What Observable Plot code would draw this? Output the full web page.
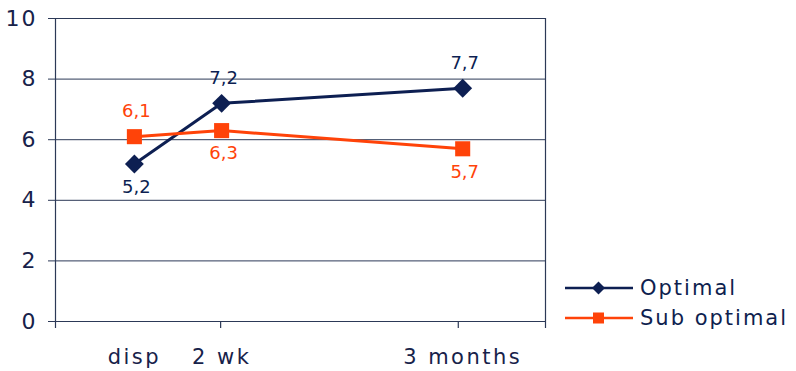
<!DOCTYPE html>
<html>
<head>
<meta charset="utf-8">
<script src="https://cdn.jsdelivr.net/npm/d3@7"></script>
<script src="https://cdn.jsdelivr.net/npm/@observablehq/plot@0.6"></script>
<style>
  body { margin: 0; background: #fff; }
  #chart { position: relative; width: 796px; height: 371px; }
  #chart g[aria-label="y-axis tick label"] text { letter-spacing: 2px; }
  #chart g[aria-label="x-axis tick label"] text { letter-spacing: 2.5px; }
  .legend { position: absolute; left: 565px; top: 273px; font-family: "DejaVu Sans", sans-serif;
            font-size: 21px; letter-spacing: 2px; color: #0f1f4f; }
  .legend .row { display: flex; align-items: center; height: 30px; }
  .legend svg { margin-right: 7px; }
</style>
</head>
<body>
<div id="chart"></div>
<script>
// Data
const categories = ["disp", "2 wk", "3 months"];
const optimal = [5.2, 7.2, 7.7];
const subOptimal = [6.1, 6.3, 5.7];
const seriesNames = ["Optimal", "Sub optimal"];
const yTicks = [0, 2, 4, 6, 8, 10];

// Layout: horizontal slot (0–100 across the frame) for each category, and where the axis ticks fall
const slot = { "disp": 16.1, "2 wk": 33.9, "3 months": 83.1 };
const tickSlots = [0, 33.7, 82.2, 100];
// Label side per point: -1 above, +1 below
const labelSide = { "Optimal": [1, -1, -1], "Sub optimal": [-1, 1, 1] };

const navy = "#0d1f52";
const orange = "#ff4309";
const ink = "#17224a";
const grid = "#2c3957";
const seriesColors = [navy, orange];

const rows = [
  ...categories.map((c, i) => ({ series: "Optimal", cat: c, value: optimal[i], side: labelSide["Optimal"][i] })),
  ...categories.map((c, i) => ({ series: "Sub optimal", cat: c, value: subOptimal[i], side: labelSide["Sub optimal"][i] }))
];
const fmt = v => String(v).replace(".", ",");
const X = d => slot[d.cat];

const chart = Plot.plot({
  width: 796,
  height: 371,
  marginLeft: 55,
  marginRight: 251,
  marginTop: 18,
  marginBottom: 50,
  style: { fontFamily: "DejaVu Sans, sans-serif", background: "#fff", overflow: "visible" },
  x: { domain: [0, 100], axis: null },
  y: { domain: [0, 10], axis: null },
  color: { domain: seriesNames, range: seriesColors },
  symbol: { domain: seriesNames, range: ["diamond2", "square"] },
  marks: [
    Plot.gridY(yTicks, { stroke: grid, strokeOpacity: 1, strokeWidth: 1 }),
    Plot.ruleX([0, 100], { y1: 0, y2: 10, stroke: grid, strokeWidth: 1.2 }),
    Plot.axisY(yTicks, {
      label: null, tickSize: 7, tickPadding: 11, fontSize: 22, color: ink, stroke: grid
    }),
    Plot.axisX(tickSlots, { label: null, tickSize: 7, tickFormat: () => "", stroke: grid, strokeWidth: 1.2 }),
    Plot.axisX(categories.map(c => slot[c]), {
      label: null, tickSize: 0, tickPadding: 28, fontSize: 21, color: ink,
      tickFormat: v => categories.find(c => slot[c] === v)
    }),
    Plot.line(rows, { x: X, y: "value", z: "series", stroke: "series", strokeWidth: 3 }),
    Plot.dot(rows, { x: X, y: "value", symbol: "series", fill: "series", stroke: null, r: 8.5 }),
    Plot.text(rows.filter(d => d.side < 0), {
      x: X, y: "value", text: d => fmt(d.value), fill: "series", fontSize: 18, dy: -25, dx: 2
    }),
    Plot.text(rows.filter(d => d.side > 0), {
      x: X, y: "value", text: d => fmt(d.value), fill: "series", fontSize: 18, dy: 23, dx: 2
    })
  ]
});

const host = document.getElementById("chart");
host.appendChild(chart);

// Legend to the right of the frame
const legend = document.createElement("div");
legend.className = "legend";
seriesNames.forEach((name, i) => {
  const row = document.createElement("div");
  row.className = "row";
  const c = seriesColors[i];
  const marker = i === 0
    ? `<path d="M33.5,1.5 L40,8 L33.5,14.5 L27,8 Z" fill="${c}"/>`
    : `<rect x="28" y="2.5" width="11" height="11" fill="${c}"/>`;
  row.innerHTML = `<svg width="68" height="16" viewBox="0 0 68 16"><line x1="0" x2="68" y1="8" y2="8" stroke="${c}" stroke-width="2.5"/>${marker}</svg><span>${name}</span>`;
  legend.appendChild(row);
});
host.appendChild(legend);
</script>
</body>
</html>
